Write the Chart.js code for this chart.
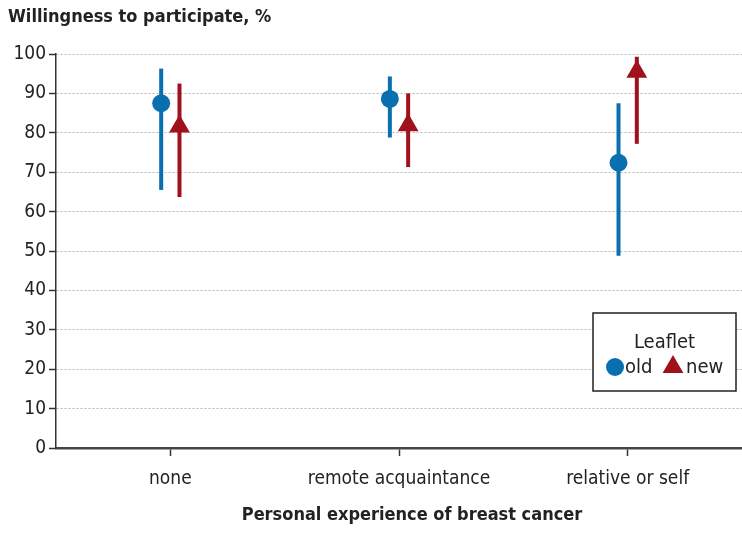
<!DOCTYPE html>
<html>
<head>
<meta charset="utf-8">
<script src="https://cdn.jsdelivr.net/npm/chart.js@4.4.1/dist/chart.umd.min.js"></script>
<style>
  html, body { margin: 0; padding: 0; background: #fff; }
  #wrap { width: 742px; height: 533px; }
</style>
</head>
<body>
<div id="wrap"><canvas id="myChart" width="742" height="533"></canvas></div>
<script>
// values
const categories = ['none', 'remote acquaintance', 'relative or self'];
const oldMean = [87.5, 88.6, 72.4];
const oldLow  = [65.5, 78.8, 48.8];
const oldHigh = [96.3, 94.3, 87.5];
const newMean = [81.6, 81.9, 95.5];
const newLow  = [63.7, 71.3, 77.2];
const newHigh = [92.5, 90.0, 99.3];
const yTicks = [0, 10, 20, 30, 40, 50, 60, 70, 80, 90, 100];

const blue = '#0a6fae';
const red = '#a0121b';
const fontFam = '"Liberation Sans Narrow", "DejaVu Sans Condensed", "Roboto", sans-serif';
const shift = 0.04;

const oldPoints = oldMean.map((v, i) => ({ x: i + 1 - shift, y: v, lo: oldLow[i], hi: oldHigh[i] }));
const newPoints = newMean.map((v, i) => ({ x: i + 1 + shift, y: v, lo: newLow[i], hi: newHigh[i] }));

// vertical error bars, drawn under the markers
const errorBars = {
  id: 'errorBars',
  beforeDatasetsDraw(chart) {
    const ctx = chart.ctx;
    const xs = chart.scales.x, ys = chart.scales.y;
    chart.data.datasets.forEach(ds => {
      ctx.save();
      ctx.strokeStyle = ds.backgroundColor;
      ctx.lineWidth = 4;
      ds.data.forEach(p => {
        const px = xs.getPixelForValue(p.x);
        ctx.beginPath();
        ctx.moveTo(px, ys.getPixelForValue(p.lo));
        ctx.lineTo(px, ys.getPixelForValue(p.hi));
        ctx.stroke();
      });
      ctx.restore();
    });
  }
};

// both titles: top left over the y axis, and under the x axis
const titles = {
  id: 'titles',
  afterDraw(chart) {
    const ctx = chart.ctx;
    ctx.save();
    ctx.fillStyle = '#222';
    ctx.font = 'bold 18px ' + fontFam;
    ctx.textBaseline = 'middle';
    ctx.textAlign = 'left';
    ctx.fillText('Willingness to participate, %', 8, 17);
    ctx.textAlign = 'center';
    ctx.fillText('Personal experience of breast cancer', 412, 515);
    ctx.restore();
  }
};

// boxed legend in the lower right of the plot
const boxLegend = {
  id: 'boxLegend',
  afterDatasetsDraw(chart) {
    const ctx = chart.ctx;
    const a = chart.chartArea;
    const bx = a.right - 149, by = a.top + 259, bw = 143, bh = 78;
    ctx.save();
    ctx.fillStyle = '#fff';
    ctx.fillRect(bx, by, bw, bh);
    ctx.strokeStyle = '#222';
    ctx.lineWidth = 1.5;
    ctx.strokeRect(bx, by, bw, bh);
    ctx.fillStyle = '#222';
    ctx.font = '20px ' + fontFam;
    ctx.textAlign = 'center';
    ctx.textBaseline = 'middle';
    ctx.fillText('Leaflet', bx + bw / 2, by + 30);
    const ry = by + 54;
    ctx.fillStyle = blue;
    ctx.beginPath();
    ctx.arc(bx + 22, ry, 9, 0, Math.PI * 2);
    ctx.fill();
    ctx.fillStyle = red;
    const tx = bx + 80, r = 12;
    ctx.beginPath();
    ctx.moveTo(tx, ry - r);
    ctx.lineTo(tx + r * 0.866, ry + r / 2);
    ctx.lineTo(tx - r * 0.866, ry + r / 2);
    ctx.closePath();
    ctx.fill();
    ctx.fillStyle = '#222';
    ctx.textAlign = 'left';
    ctx.fillText('old', bx + 32, ry + 1);
    ctx.fillText('new', bx + 93, ry + 1);
    ctx.restore();
  }
};

new Chart(document.getElementById('myChart'), {
  type: 'scatter',
  data: {
    datasets: [
      { label: 'old', data: oldPoints, backgroundColor: blue, borderColor: blue,
        pointStyle: 'circle', pointRadius: 9, pointHoverRadius: 9, borderWidth: 0 },
      { label: 'new', data: newPoints, backgroundColor: red, borderColor: red,
        pointStyle: 'triangle', pointRadius: 12, pointHoverRadius: 12, borderWidth: 0 }
    ]
  },
  options: {
    responsive: false,
    animation: false,
    layout: { autoPadding: false, padding: { left: 0, right: 0, top: 54, bottom: 0 } },
    plugins: {
      legend: { display: false },
      tooltip: { enabled: false },
      title: { display: false }
    },
    scales: {
      x: {
        type: 'linear',
        min: 0.5,
        max: 3.5,
        afterBuildTicks: s => { s.ticks = categories.map((c, i) => ({ value: i + 1 })); },
        afterFit: s => { s.height = 85; s.paddingLeft = 0; s.paddingRight = 0; },
        ticks: {
          callback: v => categories[v - 1],
          color: '#222',
          font: { family: fontFam, size: 19 },
          padding: 12
        },
        grid: { drawOnChartArea: false, drawTicks: true, tickLength: 8, tickColor: '#333', tickWidth: 1.5 },
        border: { display: true, color: '#444', width: 2.5 }
      },
      y: {
        min: 0,
        max: 100,
        afterBuildTicks: s => { s.ticks = yTicks.map(v => ({ value: v })); },
        afterFit: s => { s.width = 56; s.paddingTop = 0; s.paddingBottom = 0; },
        ticks: {
          color: '#222',
          font: { family: fontFam, size: 19 },
          padding: 3
        },
        grid: { color: '#b5b5b5', lineWidth: 1, tickLength: 7, tickColor: '#333', tickWidth: 1.5, tickBorderDash: [] },
        border: { display: true, color: '#333', width: 1.5, dash: [2, 2] }
      }
    }
  },
  plugins: [errorBars, boxLegend, titles]
});
</script>
</body>
</html>
